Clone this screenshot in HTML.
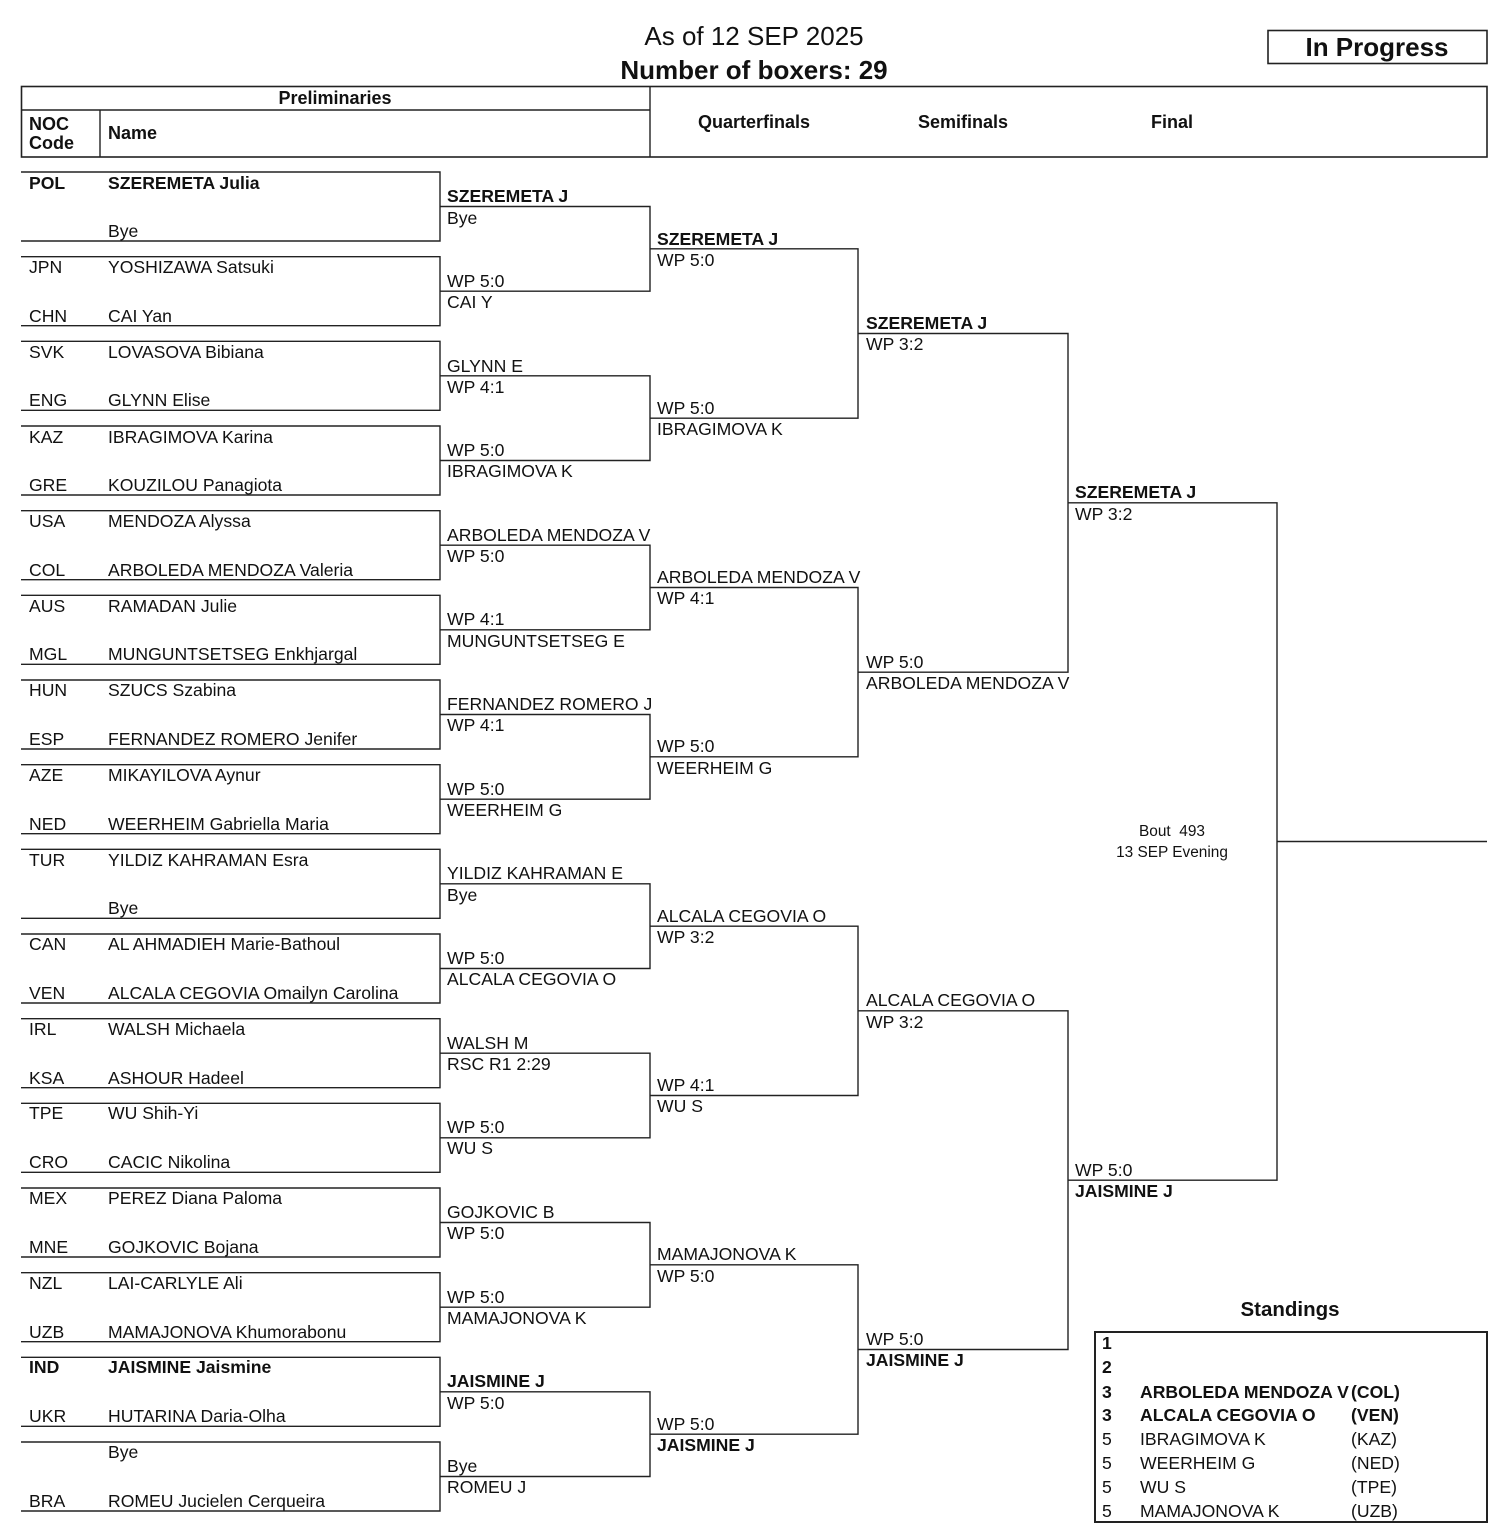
<!DOCTYPE html>
<html><head><meta charset="utf-8"><style>
html,body{margin:0;padding:0;background:#fff;}
svg{display:block;}
text{font-family:"Liberation Sans",Arial,sans-serif;font-size:17.6px;fill:#111;}
.b{font-weight:bold;}
.h{font-size:18px;font-weight:bold;}
</style></head><body>
<svg width="1506" height="1538" viewBox="0 0 1506 1538" xmlns="http://www.w3.org/2000/svg">
<g stroke="#222" stroke-width="1.4" fill="none">
<rect x="1268" y="30.5" width="219" height="33" stroke-width="1.6"/>
<rect x="21.5" y="86.5" width="1465.5" height="70.5" stroke-width="1.6"/>
<line x1="21" y1="110" x2="650" y2="110"/>
<line x1="100" y1="110" x2="100" y2="157"/>
<line x1="650" y1="86" x2="650" y2="157"/>
<path d="M21 172H440V241H21 M21 256.7H440V325.7H21 M21 341.3H440V410.3H21 M21 426H440V495H21 M21 510.7H440V579.7H21 M21 595.3H440V664.3H21 M21 680H440V749H21 M21 764.7H440V833.7H21 M21 849.3H440V918.3H21 M21 934H440V1003H21 M21 1018.7H440V1087.7H21 M21 1103.3H440V1172.3H21 M21 1188H440V1257H21 M21 1272.7H440V1341.7H21 M21 1357.3H440V1426.3H21 M21 1442H440V1511H21"/>
<path d="M440 206.5H650V291.2H440 M440 375.8H650V460.5H440 M440 545.2H650V629.8H440 M440 714.5H650V799.2H440 M440 883.8H650V968.5H440 M440 1053.2H650V1137.8H440 M440 1222.5H650V1307.2H440 M440 1391.8H650V1476.5H440"/>
<path d="M650 248.8H858V418.2H650 M650 587.5H858V756.8H650 M650 926.2H858V1095.5H650 M650 1264.8H858V1434.2H650"/>
<path d="M858 333.5H1068V672.2H858 M858 1010.8H1068V1349.5H858"/>
<path d="M1068 502.8H1277V1180.2H1068 M1277 841.5H1487"/>
<rect x="1095" y="1332" width="392" height="190" stroke-width="2"/>
</g>
<text x="754" y="45" text-anchor="middle" style="font-size:26px">As of 12 SEP 2025</text>
<text x="754" y="79" text-anchor="middle" class="b" style="font-size:26px">Number of boxers: 29</text>
<text x="1377" y="56" text-anchor="middle" class="b" style="font-size:26px">In Progress</text>
<text x="335" y="104" text-anchor="middle" class="h">Preliminaries</text>
<text x="29" y="130" class="h">NOC</text>
<text x="29" y="149" class="h">Code</text>
<text x="108" y="139" class="h">Name</text>
<text x="754" y="128" text-anchor="middle" class="h">Quarterfinals</text>
<text x="963" y="128" text-anchor="middle" class="h">Semifinals</text>
<text x="1172" y="128" text-anchor="middle" class="h">Final</text>
<text x="29" y="189" class="b">POL</text><text x="108" y="189" class="b">SZEREMETA Julia</text>
<text x="108" y="237">Bye</text>
<text x="29" y="273">JPN</text><text x="108" y="273">YOSHIZAWA Satsuki</text>
<text x="29" y="322">CHN</text><text x="108" y="322">CAI Yan</text>
<text x="29" y="358">SVK</text><text x="108" y="358">LOVASOVA Bibiana</text>
<text x="29" y="406">ENG</text><text x="108" y="406">GLYNN Elise</text>
<text x="29" y="443">KAZ</text><text x="108" y="443">IBRAGIMOVA Karina</text>
<text x="29" y="491">GRE</text><text x="108" y="491">KOUZILOU Panagiota</text>
<text x="29" y="527">USA</text><text x="108" y="527">MENDOZA Alyssa</text>
<text x="29" y="576">COL</text><text x="108" y="576">ARBOLEDA MENDOZA Valeria</text>
<text x="29" y="612">AUS</text><text x="108" y="612">RAMADAN Julie</text>
<text x="29" y="660">MGL</text><text x="108" y="660">MUNGUNTSETSEG Enkhjargal</text>
<text x="29" y="696">HUN</text><text x="108" y="696">SZUCS Szabina</text>
<text x="29" y="745">ESP</text><text x="108" y="745">FERNANDEZ ROMERO Jenifer</text>
<text x="29" y="781">AZE</text><text x="108" y="781">MIKAYILOVA Aynur</text>
<text x="29" y="830">NED</text><text x="108" y="830">WEERHEIM Gabriella Maria</text>
<text x="29" y="866">TUR</text><text x="108" y="866">YILDIZ KAHRAMAN Esra</text>
<text x="108" y="914">Bye</text>
<text x="29" y="950">CAN</text><text x="108" y="950">AL AHMADIEH Marie-Bathoul</text>
<text x="29" y="999">VEN</text><text x="108" y="999">ALCALA CEGOVIA Omailyn Carolina</text>
<text x="29" y="1035">IRL</text><text x="108" y="1035">WALSH Michaela</text>
<text x="29" y="1084">KSA</text><text x="108" y="1084">ASHOUR Hadeel</text>
<text x="29" y="1119">TPE</text><text x="108" y="1119">WU Shih-Yi</text>
<text x="29" y="1168">CRO</text><text x="108" y="1168">CACIC Nikolina</text>
<text x="29" y="1204">MEX</text><text x="108" y="1204">PEREZ Diana Paloma</text>
<text x="29" y="1253">MNE</text><text x="108" y="1253">GOJKOVIC Bojana</text>
<text x="29" y="1289">NZL</text><text x="108" y="1289">LAI-CARLYLE Ali</text>
<text x="29" y="1338">UZB</text><text x="108" y="1338">MAMAJONOVA Khumorabonu</text>
<text x="29" y="1373" class="b">IND</text><text x="108" y="1373" class="b">JAISMINE Jaismine</text>
<text x="29" y="1422">UKR</text><text x="108" y="1422">HUTARINA Daria-Olha</text>
<text x="108" y="1458">Bye</text>
<text x="29" y="1507">BRA</text><text x="108" y="1507">ROMEU Jucielen Cerqueira</text>
<text x="447" y="202" class="b">SZEREMETA J</text><text x="447" y="224">Bye</text>
<text x="447" y="287">WP 5:0</text><text x="447" y="308">CAI Y</text>
<text x="447" y="372">GLYNN E</text><text x="447" y="393">WP 4:1</text>
<text x="447" y="456">WP 5:0</text><text x="447" y="477">IBRAGIMOVA K</text>
<text x="447" y="541">ARBOLEDA MENDOZA V</text><text x="447" y="562">WP 5:0</text>
<text x="447" y="625">WP 4:1</text><text x="447" y="647">MUNGUNTSETSEG E</text>
<text x="447" y="710">FERNANDEZ ROMERO J</text><text x="447" y="731">WP 4:1</text>
<text x="447" y="795">WP 5:0</text><text x="447" y="816">WEERHEIM G</text>
<text x="447" y="879">YILDIZ KAHRAMAN E</text><text x="447" y="901">Bye</text>
<text x="447" y="964">WP 5:0</text><text x="447" y="985">ALCALA CEGOVIA O</text>
<text x="447" y="1049">WALSH M</text><text x="447" y="1070">RSC R1 2:29</text>
<text x="447" y="1133">WP 5:0</text><text x="447" y="1154">WU S</text>
<text x="447" y="1218">GOJKOVIC B</text><text x="447" y="1239">WP 5:0</text>
<text x="447" y="1303">WP 5:0</text><text x="447" y="1324">MAMAJONOVA K</text>
<text x="447" y="1387" class="b">JAISMINE J</text><text x="447" y="1409">WP 5:0</text>
<text x="447" y="1472">Bye</text><text x="447" y="1493">ROMEU J</text>
<text x="657" y="245" class="b">SZEREMETA J</text><text x="657" y="266">WP 5:0</text>
<text x="657" y="414">WP 5:0</text><text x="657" y="435">IBRAGIMOVA K</text>
<text x="657" y="583">ARBOLEDA MENDOZA V</text><text x="657" y="604">WP 4:1</text>
<text x="657" y="752">WP 5:0</text><text x="657" y="774">WEERHEIM G</text>
<text x="657" y="922">ALCALA CEGOVIA O</text><text x="657" y="943">WP 3:2</text>
<text x="657" y="1091">WP 4:1</text><text x="657" y="1112">WU S</text>
<text x="657" y="1260">MAMAJONOVA K</text><text x="657" y="1282">WP 5:0</text>
<text x="657" y="1430">WP 5:0</text><text x="657" y="1451" class="b">JAISMINE J</text>
<text x="866" y="329" class="b">SZEREMETA J</text><text x="866" y="350">WP 3:2</text>
<text x="866" y="668">WP 5:0</text><text x="866" y="689">ARBOLEDA MENDOZA V</text>
<text x="866" y="1006">ALCALA CEGOVIA O</text><text x="866" y="1028">WP 3:2</text>
<text x="866" y="1345">WP 5:0</text><text x="866" y="1366" class="b">JAISMINE J</text>
<text x="1075" y="498" class="b">SZEREMETA J</text><text x="1075" y="520">WP 3:2</text>
<text x="1075" y="1176">WP 5:0</text><text x="1075" y="1197" class="b">JAISMINE J</text>
<text x="1172" y="836" text-anchor="middle" style="font-size:15.4px">Bout&#160; 493</text>
<text x="1172" y="857" text-anchor="middle" style="font-size:15.4px">13 SEP Evening</text>
<text x="1290" y="1316" text-anchor="middle" class="b" style="font-size:20.5px">Standings</text>
<text x="1102" y="1349" class="b">1</text>
<text x="1102" y="1373" class="b">2</text>
<text x="1102" y="1398" class="b">3</text><text x="1140" y="1398" class="b">ARBOLEDA MENDOZA V</text><text x="1351" y="1398" class="b">(COL)</text>
<text x="1102" y="1421" class="b">3</text><text x="1140" y="1421" class="b">ALCALA CEGOVIA O</text><text x="1351" y="1421" class="b">(VEN)</text>
<text x="1102" y="1445">5</text><text x="1140" y="1445">IBRAGIMOVA K</text><text x="1351" y="1445">(KAZ)</text>
<text x="1102" y="1469">5</text><text x="1140" y="1469">WEERHEIM G</text><text x="1351" y="1469">(NED)</text>
<text x="1102" y="1493">5</text><text x="1140" y="1493">WU S</text><text x="1351" y="1493">(TPE)</text>
<text x="1102" y="1517">5</text><text x="1140" y="1517">MAMAJONOVA K</text><text x="1351" y="1517">(UZB)</text>
</svg>
</body></html>
